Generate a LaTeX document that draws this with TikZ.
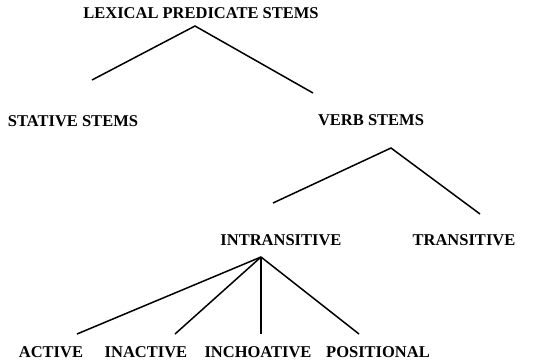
\documentclass[tikz,border=0pt]{standalone}
\usepackage{fontspec}
\setmainfont{Liberation Serif}
\tikzset{stem/.style={font=\bfseries\fontsize{16.5}{18}\selectfont, inner sep=0pt},
	branch/.style={line width=1.5pt}}
\begin{document}
\begin{tikzpicture}[x=1pt,y=-1pt]
	\useasboundingbox (0,0) rectangle (548,362);
	\node[stem] (lex) at (201,13) {LEXICAL PREDICATE STEMS};
	\node[stem] (stative) at (73,121) {STATIVE STEMS};
	\node[stem] (verb) at (371,120) {VERB STEMS};
	\node[stem] (intr) at (281,240) {INTRANSITIVE};
	\node[stem] (trans) at (464,240) {TRANSITIVE};
	\node[stem] (active) at (51,352) {ACTIVE};
	\node[stem] (inactive) at (146,352) {INACTIVE};
	\node[stem] (inchoative) at (258,352) {INCHOATIVE};
	\node[stem] (positional) at (378,352) {POSITIONAL};
	% forks under the mothers, free ends above the daughters
	\coordinate (lexfork) at (195,26);
	\coordinate (verbfork) at (391,148);
	\coordinate (intrfork) at (261,257);
	\coordinate (stativeend) at (92,80);
	\coordinate (verbend) at (313,93);
	\coordinate (intrend) at (273,203);
	\coordinate (transend) at (480,214);
	\draw[branch] (stativeend) -- (lexfork) -- (verbend);
	\draw[branch] (intrend) -- (verbfork) -- (transend);
	\foreach \n/\x in {active/77,inactive/175,inchoative/261,positional/359}
	  {
	      \coordinate (\n end) at (\x,334);
	      \draw[branch] (intrfork) -- (\n end);
	  }
\end{tikzpicture}
\end{document}
